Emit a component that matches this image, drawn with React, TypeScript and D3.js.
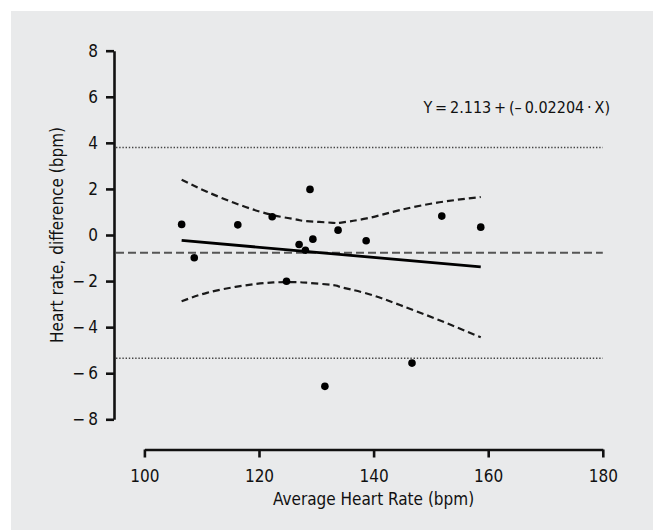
import React, { useRef, useEffect } from 'react';
import * as d3 from 'd3';

// Bland-Altman style data
const avgRate = [106.5, 108.7, 116.3, 122.3, 124.8, 127.0, 128.1, 128.9, 129.4, 131.5, 133.8, 138.7, 146.7, 151.9, 158.7];
const rateDiff = [0.46, -0.99, 0.44, 0.79, -2.01, -0.41, -0.66, 1.98, -0.18, -6.57, 0.21, -0.25, -5.56, 0.82, 0.34];

const meanDiff = -0.77;
const limitsOfAgreement = [3.8, -5.35];

// fit line Y = 2.113 + (-0.02204 * X), drawn over the data range
const fitIntercept = 2.113;
const fitSlope = -0.02204;
const fitRange = [106.5, 158.7];

// 95% confidence band
const bandX = [106.5, 110.9, 116.7, 122.5, 126.6, 128.3, 132.9, 134.1, 138.8, 144.6, 151.5, 158.7];
const bandUpper = [2.4, 1.88, 1.3, 0.86, 0.67, 0.6, 0.53, 0.53, 0.72, 1.08, 1.42, 1.65];
const bandLower = [-2.88, -2.51, -2.22, -2.06, -2.05, -2.07, -2.17, -2.25, -2.54, -3.04, -3.7, -4.44];

const xTicks = [100, 120, 140, 160, 180];
const yTicks = [-8, -6, -4, -2, 0, 2, 4, 6, 8];

const FONT = "'DejaVu Sans Condensed', 'DejaVu Sans', sans-serif";
const INK = '#111111';

const App = () => {
  const ref = useRef(null);

  useEffect(() => {
    if (!ref.current) return;
    const svg = d3.select(ref.current);
    svg.selectAll('*').remove();

    const width = 656;
    const height = 530;
    const yAxisX = 114;
    const xAxisY = 449.5;

    svg.append('rect')
      .attr('width', width).attr('height', height).attr('fill', '#ffffff');
    svg.append('rect')
      .attr('x', 11).attr('y', 11)
      .attr('width', 642).attr('height', height - 11)
      .attr('fill', '#e9eaeb');

    const x = d3.scaleLinear().domain([100, 180]).range([144.4, 602.8]);
    const y = d3.scaleLinear().domain([-8, 8]).range([419.3, 50.7]);

    const fmt = (d) => (d < 0 ? '\u2212\u2009' + Math.abs(d) : String(d));

    // y axis
    const gy = svg.append('g')
      .attr('transform', `translate(${yAxisX},0)`)
      .call(d3.axisLeft(y).tickValues(yTicks).tickSize(8).tickSizeOuter(0).tickPadding(8).tickFormat(fmt));

    // x axis
    const gx = svg.append('g')
      .attr('transform', `translate(0,${xAxisY})`)
      .call(d3.axisBottom(x).tickValues(xTicks).tickSize(8).tickSizeOuter(0).tickPadding(12).tickFormat(fmt));

    [gx, gy].forEach(g => {
      g.select('.domain').attr('stroke', INK).attr('stroke-width', 2.6);
      g.selectAll('.tick line').attr('stroke', INK).attr('stroke-width', 2.6);
      g.selectAll('.tick text')
        .attr('fill', INK)
        .style('font-family', FONT)
        .style('font-stretch', 'condensed')
        .style('font-size', '17px');
    });

    // limits of agreement (dotted) and mean difference (dashed)
    limitsOfAgreement.forEach(v => {
      svg.append('line')
        .attr('x1', yAxisX + 2).attr('x2', x(180))
        .attr('y1', y(v)).attr('y2', y(v))
        .attr('stroke', '#444')
        .attr('stroke-width', 1.4)
        .attr('stroke-dasharray', '1.4 1.8');
    });
    svg.append('line')
      .attr('x1', yAxisX + 2).attr('x2', x(180))
      .attr('y1', y(meanDiff)).attr('y2', y(meanDiff))
      .attr('stroke', '#555')
      .attr('stroke-width', 2.2)
      .attr('stroke-dasharray', '8 4');

    // confidence band
    const band = d3.line()
      .x(d => x(d[0]))
      .y(d => y(d[1]))
      .curve(d3.curveNatural);
    [bandUpper, bandLower].forEach(vals => {
      svg.append('path')
        .attr('d', band(bandX.map((bx, i) => [bx, vals[i]])))
        .attr('fill', 'none')
        .attr('stroke', '#1a1a1a')
        .attr('stroke-width', 2.2)
        .attr('stroke-dasharray', '7 4');
    });

    // regression line
    svg.append('line')
      .attr('x1', x(fitRange[0])).attr('y1', y(fitIntercept + fitSlope * fitRange[0]))
      .attr('x2', x(fitRange[1])).attr('y2', y(fitIntercept + fitSlope * fitRange[1]))
      .attr('stroke', '#000')
      .attr('stroke-width', 2.8);

    // points
    svg.append('g')
      .selectAll('circle')
      .data(avgRate.map((a, i) => ({ a, d: rateDiff[i] })))
      .join('circle')
      .attr('cx', p => x(p.a))
      .attr('cy', p => y(p.d))
      .attr('r', 3.8)
      .attr('fill', '#000');

    // equation
    svg.append('text')
      .attr('x', 610).attr('y', 113)
      .attr('text-anchor', 'end')
      .attr('fill', INK)
      .style('font-family', FONT)
      .style('font-stretch', 'condensed')
      .style('font-size', '16px')
      .text('Y\u2009=\u20092.113\u2009+\u2009(\u2013\u20090.02204\u2009\u00b7\u2009X)');

    // axis titles
    svg.append('text')
      .attr('x', x(140)).attr('y', 505)
      .attr('text-anchor', 'middle')
      .attr('fill', INK)
      .style('font-family', FONT)
      .style('font-stretch', 'condensed')
      .style('font-size', '17px')
      .text('Average Heart Rate (bpm)');

    svg.append('text')
      .attr('transform', `translate(56.7,${y(0)}) rotate(-90)`)
      .attr('dy', '0.35em')
      .attr('text-anchor', 'middle')
      .attr('fill', INK)
      .style('font-family', FONT)
      .style('font-stretch', 'condensed')
      .style('font-size', '17px')
      .text('Heart rate, difference (bpm)');
  }, []);

  return (
    <svg
      ref={ref}
      width={656}
      height={530}
      style={{ position: 'absolute', left: 0, top: 0 }}
    />
  );
};

export default App;
